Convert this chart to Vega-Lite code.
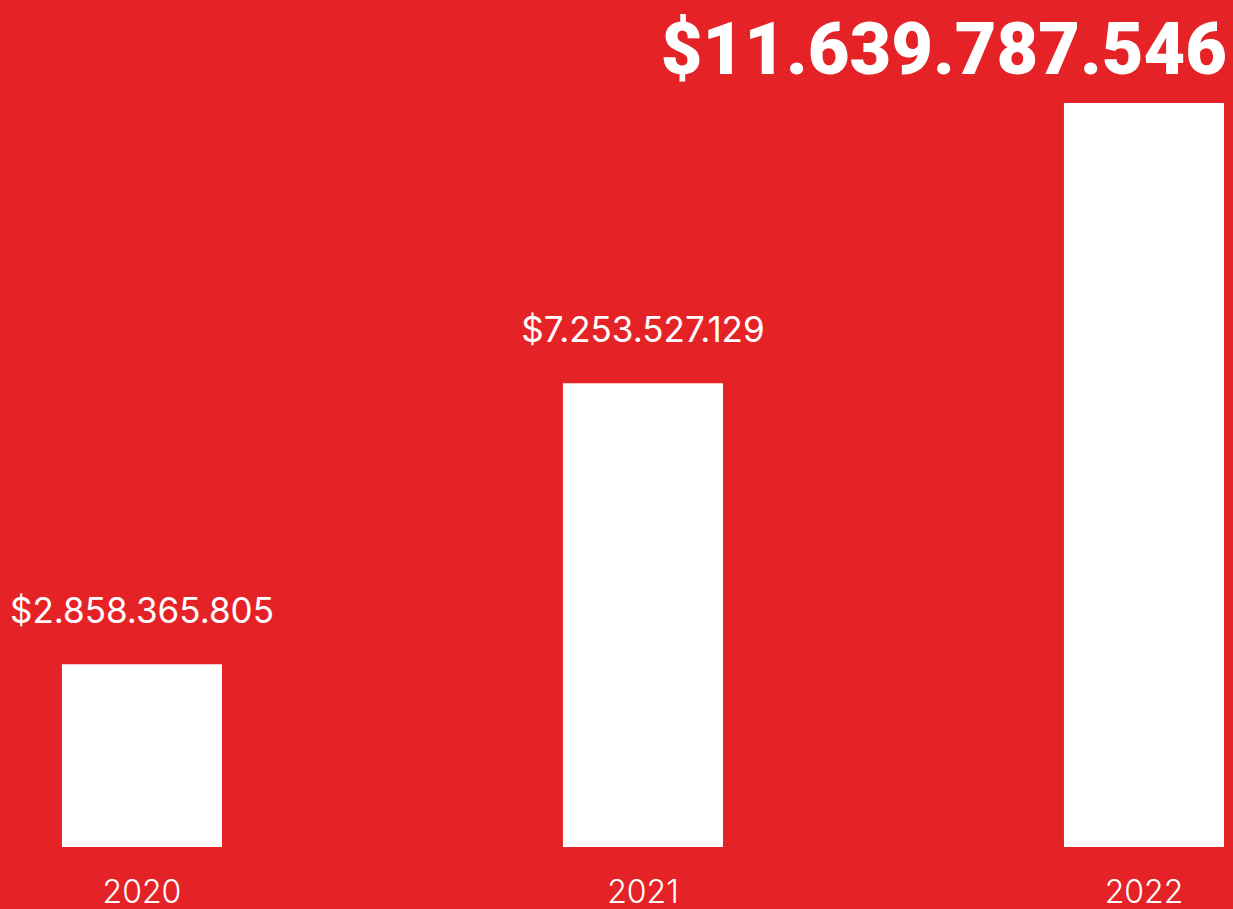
{
  "$schema": "https://vega.github.io/schema/vega-lite/v6.json",
  "width": 1233,
  "height": 847,
  "autosize": "none",
  "padding": {"top": 0, "left": 0, "right": 0, "bottom": 62},
  "background": "#E52327",
  "config": {
    "view": {"stroke": null},
    "locale": {"number": {"decimal": ",", "thousands": ".", "grouping": [3], "currency": ["$", ""]}}
  },
  "data": {"values": [
    {"year": "2020", "value": 2858365805},
    {"year": "2021", "value": 7253527129},
    {"year": "2022", "value": 11639787546}
  ]},
  "encoding": {
    "x": {
      "field": "year", "type": "nominal",
      "scale": {"paddingInner": 0.6806, "paddingOuter": 0.0708, "align": 0.873, "round": false},
      "axis": {"title": null, "labelAngle": 0, "ticks": false, "domain": false, "grid": false,
        "labelFont": "Inter", "labelFontWeight": 300, "labelFontSize": 32, "labelColor": "#FFFFFF",
        "labelBaseline": "alphabetic", "labelPadding": 55}
    },
    "y": {
      "field": "value", "type": "quantitative",
      "scale": {"domain": [0, 13251000000], "nice": false, "zero": true},
      "axis": null
    }
  },
  "layer": [
    {"mark": {"type": "bar", "color": "#FFFFFF"}},
    {
      "transform": [{"filter": "datum.year != '2022'"}],
      "mark": {"type": "text", "color": "#FFFFFF", "font": "Inter", "fontSize": 35, "fontWeight": 400, "baseline": "alphabetic", "dy": -41},
      "encoding": {"text": {"field": "value", "type": "quantitative", "format": "$,"}}
    },
    {
      "transform": [{"filter": "datum.year == '2022'"}],
      "mark": {"type": "text", "color": "#FFFFFF", "font": "Roboto", "fontSize": 72, "fontWeight": 900, "baseline": "alphabetic", "align": "right", "dy": -29, "dx": 3},
      "encoding": {
        "x": {"field": "year", "type": "nominal", "bandPosition": 1},
        "text": {"field": "value", "type": "quantitative", "format": "$,"}
      }
    }
  ]
}
